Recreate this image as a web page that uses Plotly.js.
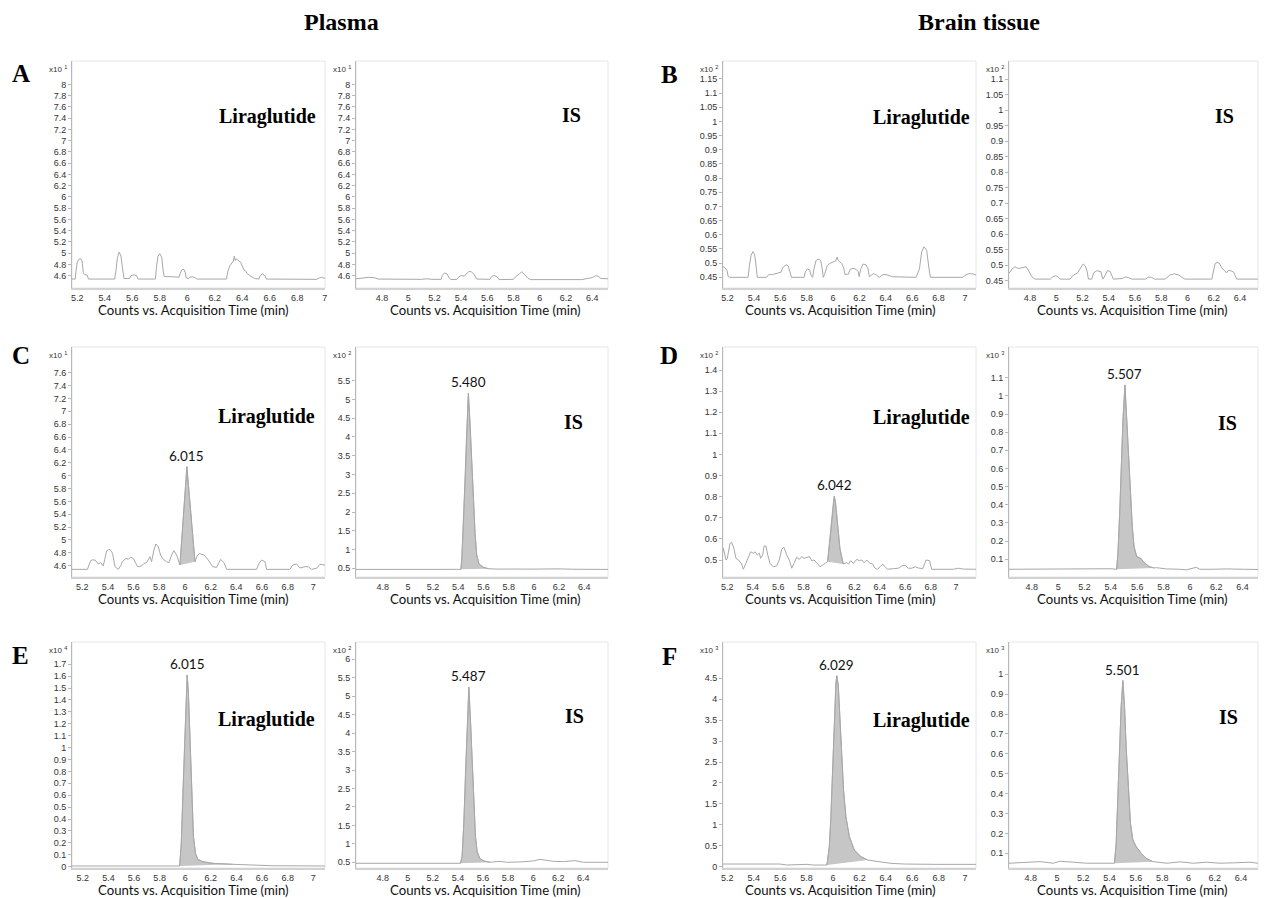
<!DOCTYPE html>
<html><head><meta charset="utf-8">
<script src="https://cdn.plot.ly/plotly-3.0.1.min.js"></script>
<style>html,body{margin:0;padding:0;background:#fff}#chart{width:1264px;height:898px}</style>
</head><body><div id="chart"></div>
<script>
// ---------- DATA (time in min, counts in axis units) ----------
const A_lira = [[5.162,4.54],[5.185,4.54],[5.192,4.70],[5.200,4.84],[5.212,4.89],[5.225,4.90],[5.235,4.86],[5.240,4.75],[5.245,4.64],[5.255,4.62],[5.272,4.61],[5.282,4.54],[5.472,4.54],[5.482,4.70],[5.492,4.92],[5.505,5.02],[5.518,4.95],[5.528,4.75],[5.540,4.55],[5.580,4.55],[5.590,4.60],[5.612,4.615],[5.632,4.60],[5.642,4.54],[5.768,4.54],[5.776,4.75],[5.786,4.94],[5.800,4.99],[5.814,4.93],[5.824,4.70],[5.832,4.585],[5.900,4.58],[5.940,4.575],[5.950,4.65],[5.962,4.71],[5.976,4.71],[5.986,4.65],[5.992,4.56],[6.010,4.55],[6.020,4.575],[6.040,4.58],[6.060,4.56],[6.068,4.54],[6.285,4.54],[6.295,4.68],[6.310,4.78],[6.325,4.82],[6.335,4.86],[6.342,4.95],[6.348,4.87],[6.354,4.90],[6.362,4.88],[6.376,4.86],[6.388,4.84],[6.400,4.75],[6.412,4.70],[6.425,4.68],[6.436,4.64],[6.455,4.60],[6.472,4.58],[6.490,4.55],[6.520,4.54],[6.530,4.60],[6.545,4.63],[6.565,4.60],[6.575,4.54],[6.940,4.535],[6.960,4.56],[6.975,4.57],[7.0,4.555]];
const A_is = [[4.602,4.545],[4.64,4.56],[4.70,4.57],[4.74,4.565],[4.77,4.54],[5.10,4.535],[5.14,4.545],[5.18,4.535],[5.25,4.535],[5.258,4.60],[5.275,4.65],[5.295,4.63],[5.31,4.56],[5.325,4.53],[5.37,4.535],[5.385,4.58],[5.405,4.605],[5.425,4.59],[5.44,4.62],[5.46,4.675],[5.48,4.67],[5.50,4.62],[5.52,4.54],[5.62,4.535],[5.632,4.58],[5.652,4.605],[5.675,4.58],[5.69,4.53],[5.80,4.535],[5.82,4.59],[5.845,4.63],[5.862,4.67],[5.88,4.63],[5.895,4.59],[5.91,4.555],[5.93,4.53],[6.32,4.53],[6.36,4.55],[6.40,4.565],[6.425,4.60],[6.445,4.59],[6.465,4.55],[6.519,4.545]];
const B_lira = [[5.165,0.488],[5.18,0.484],[5.195,0.474],[5.205,0.452],[5.215,0.45],[5.355,0.45],[5.365,0.49],[5.378,0.528],[5.392,0.541],[5.405,0.53],[5.416,0.49],[5.425,0.45],[5.495,0.45],[5.51,0.459],[5.54,0.46],[5.575,0.464],[5.605,0.468],[5.615,0.48],[5.625,0.488],[5.645,0.494],[5.66,0.49],[5.672,0.47],[5.685,0.45],[5.78,0.45],[5.79,0.47],[5.805,0.479],[5.822,0.476],[5.835,0.455],[5.845,0.45],[5.855,0.48],[5.87,0.508],[5.885,0.515],[5.905,0.51],[5.918,0.48],[5.925,0.45],[5.935,0.46],[5.955,0.49],[5.975,0.499],[6.005,0.505],[6.02,0.508],[6.03,0.521],[6.038,0.51],[6.05,0.505],[6.065,0.499],[6.08,0.484],[6.09,0.46],[6.115,0.461],[6.13,0.478],[6.15,0.482],[6.175,0.478],[6.19,0.47],[6.198,0.452],[6.21,0.48],[6.228,0.497],[6.25,0.494],[6.265,0.48],[6.275,0.452],[6.305,0.463],[6.33,0.458],[6.35,0.45],[6.38,0.46],[6.41,0.459],[6.45,0.452],[6.63,0.45],[6.655,0.48],[6.672,0.54],[6.69,0.558],[6.71,0.545],[6.725,0.49],[6.738,0.45],[6.985,0.45],[7.00,0.457],[7.03,0.463],[7.06,0.462],[7.084,0.458]];
const B_is = [[4.64,0.474],[4.665,0.488],[4.686,0.495],[4.705,0.49],[4.724,0.49],[4.745,0.492],[4.77,0.495],[4.787,0.484],[4.813,0.463],[4.838,0.455],[4.955,0.455],[4.975,0.463],[4.995,0.466],[5.015,0.462],[5.03,0.455],[5.105,0.455],[5.13,0.468],[5.16,0.474],[5.185,0.49],[5.205,0.504],[5.222,0.497],[5.235,0.48],[5.245,0.455],[5.27,0.455],[5.285,0.475],[5.308,0.482],[5.34,0.479],[5.355,0.455],[5.37,0.465],[5.39,0.482],[5.41,0.48],[5.425,0.465],[5.435,0.455],[5.505,0.457],[5.525,0.462],[5.55,0.46],[5.575,0.455],[5.68,0.455],[5.70,0.461],[5.725,0.461],[5.75,0.455],[5.83,0.455],[5.865,0.468],[5.9,0.472],[5.935,0.468],[5.96,0.46],[5.98,0.455],[6.185,0.455],[6.195,0.48],[6.21,0.505],[6.225,0.509],[6.243,0.506],[6.26,0.492],[6.28,0.482],[6.298,0.475],[6.31,0.483],[6.33,0.482],[6.35,0.478],[6.365,0.462],[6.375,0.455],[6.54,0.455]];
const C_lira = [[5.12,4.543],[5.24,4.543],[5.265,4.678],[5.28,4.69],[5.30,4.688],[5.325,4.626],[5.343,4.647],[5.364,4.595],[5.375,4.70],[5.39,4.828],[5.405,4.85],[5.416,4.854],[5.436,4.792],[5.455,4.584],[5.481,4.543],[5.50,4.60],[5.512,4.662],[5.54,4.714],[5.558,4.70],[5.577,4.73],[5.597,4.714],[5.618,4.636],[5.631,4.584],[5.662,4.595],[5.681,4.636],[5.701,4.647],[5.727,4.74],[5.74,4.662],[5.758,4.844],[5.774,4.937],[5.792,4.895],[5.81,4.766],[5.831,4.698],[5.857,4.662],[5.875,4.647],[5.896,4.766],[5.914,4.833],[5.935,4.766],[5.956,4.626],[5.961,4.61],[6.015,6.139],[6.078,4.662],[6.095,4.75],[6.112,4.79],[6.148,4.766],[6.182,4.688],[6.216,4.584],[6.247,4.574],[6.262,4.64],[6.278,4.698],[6.304,4.647],[6.325,4.543],[6.558,4.543],[6.578,4.64],[6.597,4.688],[6.623,4.662],[6.636,4.543],[6.818,4.543],[6.839,4.61],[6.87,4.626],[6.896,4.564],[6.935,4.584],[6.961,4.584],[6.987,4.543],[7.026,4.56],[7.052,4.621],[7.091,4.61]];
const C_is = [[4.588,0.47],[5.0,0.468],[5.3,0.47],[5.42,0.472],[5.427,0.72],[5.44,1.61],[5.453,2.853],[5.466,4.097],[5.48,5.163],[5.493,4.363],[5.506,3.297],[5.519,2.32],[5.533,1.43],[5.546,0.855],[5.564,0.615],[5.598,0.527],[5.638,0.491],[5.70,0.478],[5.75,0.48],[5.80,0.495],[5.85,0.48],[6.0,0.478],[6.15,0.49],[6.2,0.485],[6.3,0.475],[6.45,0.472],[6.588,0.47]];
const D_lira = [[5.166,0.54],[5.169,0.555],[5.19,0.50],[5.2,0.508],[5.221,0.579],[5.234,0.584],[5.252,0.555],[5.268,0.508],[5.287,0.50],[5.313,0.481],[5.326,0.456],[5.347,0.487],[5.365,0.516],[5.384,0.539],[5.405,0.532],[5.418,0.539],[5.436,0.524],[5.452,0.532],[5.462,0.508],[5.478,0.524],[5.489,0.566],[5.504,0.566],[5.518,0.524],[5.536,0.484],[5.562,0.468],[5.588,0.472],[5.609,0.50],[5.628,0.551],[5.646,0.56],[5.667,0.524],[5.688,0.50],[5.707,0.461],[5.725,0.484],[5.746,0.513],[5.767,0.503],[5.785,0.516],[5.804,0.508],[5.825,0.513],[5.846,0.516],[5.864,0.497],[5.882,0.50],[5.903,0.487],[5.930,0.468],[5.951,0.476],[5.989,0.492],[6.008,0.595],[6.021,0.69],[6.034,0.769],[6.042,0.803],[6.052,0.769],[6.068,0.658],[6.086,0.555],[6.112,0.481],[6.140,0.487],[6.153,0.481],[6.171,0.497],[6.192,0.484],[6.218,0.503],[6.239,0.497],[6.258,0.50],[6.276,0.487],[6.297,0.50],[6.323,0.484],[6.344,0.481],[6.363,0.461],[6.381,0.456],[6.402,0.468],[6.423,0.481],[6.441,0.468],[6.460,0.456],[6.507,0.459],[6.546,0.461],[6.573,0.472],[6.599,0.475],[6.625,0.461],[6.651,0.461],[6.678,0.468],[6.704,0.462],[6.738,0.459],[6.764,0.50],[6.791,0.497],[6.809,0.456],[6.98,0.456],[7.019,0.461],[7.058,0.457],[7.111,0.456],[7.157,0.456]];
const D_is = [[4.627,0.045],[5.0,0.046],[5.262,0.049],[5.30,0.046],[5.40,0.048],[5.444,0.045],[5.454,0.133],[5.467,0.353],[5.479,0.61],[5.492,0.867],[5.507,1.06],[5.520,0.885],[5.533,0.665],[5.551,0.427],[5.563,0.28],[5.576,0.17],[5.596,0.115],[5.627,0.105],[5.652,0.082],[5.690,0.06],[5.728,0.052],[5.745,0.054],[5.821,0.047],[5.923,0.045],[5.973,0.042],[6.050,0.056],[6.075,0.045],[6.177,0.045],[6.278,0.047],[6.405,0.045],[6.517,0.044]];
const E_lira = [[5.116,0.006],[5.5,0.006],[5.956,0.006],[5.969,0.196],[5.982,0.644],[5.995,1.064],[6.007,1.456],[6.015,1.61],[6.025,1.456],[6.038,1.064],[6.051,0.588],[6.064,0.252],[6.080,0.112],[6.098,0.062],[6.137,0.042],[6.216,0.028],[6.372,0.02],[6.528,0.014],[6.684,0.008],[7.091,0.006]];
const E_is = [[4.587,0.473],[5.0,0.473],[5.412,0.473],[5.420,0.473],[5.433,0.654],[5.447,1.557],[5.460,2.912],[5.473,4.177],[5.487,5.243],[5.500,4.357],[5.513,3.183],[5.526,2.009],[5.540,1.196],[5.553,0.789],[5.574,0.608],[5.606,0.536],[5.656,0.50],[5.736,0.527],[5.789,0.50],[5.896,0.51],[6.002,0.536],[6.055,0.58],[6.095,0.565],[6.162,0.527],[6.241,0.518],[6.335,0.545],[6.401,0.50],[6.597,0.50]];
const F_lira = [[5.167,0.064],[5.40,0.064],[5.599,0.064],[5.649,0.04],[5.801,0.056],[5.852,0.04],[5.94,0.04],[5.954,0.04],[5.972,0.478],[5.984,1.19],[5.997,2.31],[6.009,3.5],[6.022,4.38],[6.029,4.56],[6.040,4.34],[6.052,3.58],[6.065,2.71],[6.080,1.83],[6.098,1.19],[6.124,0.717],[6.161,0.398],[6.212,0.239],[6.262,0.16],[6.312,0.135],[6.363,0.104],[6.439,0.08],[6.540,0.064],[6.666,0.056],[6.792,0.056],[7.083,0.056]];
const F_is = [[4.635,0.05],[4.871,0.058],[4.972,0.05],[5.023,0.06],[5.125,0.055],[5.226,0.05],[5.434,0.05],[5.437,0.05],[5.450,0.15],[5.463,0.385],[5.475,0.62],[5.488,0.837],[5.501,0.968],[5.514,0.837],[5.526,0.636],[5.544,0.418],[5.559,0.251],[5.577,0.167],[5.602,0.134],[5.640,0.1],[5.678,0.075],[5.729,0.058],[5.780,0.055],[5.835,0.05],[5.936,0.057],[6.037,0.05],[6.139,0.055],[6.240,0.05],[6.342,0.052],[6.468,0.055],[6.529,0.05]];

// tick labels
const xTicksLira = [5.2,5.4,5.6,5.8,6,6.2,6.4,6.6,6.8,7];
const xTicksIS = [4.8,5,5.2,5.4,5.6,5.8,6,6.2,6.4];
const yTicksA = [4.6,4.8,5,5.2,5.4,5.6,5.8,6,6.2,6.4,6.6,6.8,7,7.2,7.4,7.6,7.8,8];
const yTicksBl = [0.45,0.5,0.55,0.6,0.65,0.7,0.75,0.8,0.85,0.9,0.95,1,1.05,1.1,1.15];
const yTicksBr = [0.45,0.5,0.55,0.6,0.65,0.7,0.75,0.8,0.85,0.9,0.95,1,1.05,1.1];
const yTicksCl = [4.6,4.8,5,5.2,5.4,5.6,5.8,6,6.2,6.4,6.6,6.8,7,7.2,7.4,7.6];
const yTicksCr = [0.5,1,1.5,2,2.5,3,3.5,4,4.5,5,5.5];
const yTicksDl = [0.5,0.6,0.7,0.8,0.9,1,1.1,1.2,1.3,1.4];
const yTicksDr = [0.1,0.2,0.3,0.4,0.5,0.6,0.7,0.8,0.9,1,1.1];
const yTicksEl = [0,0.1,0.2,0.3,0.4,0.5,0.6,0.7,0.8,0.9,1,1.1,1.2,1.3,1.4,1.5,1.6,1.7];
const yTicksEr = [0.5,1,1.5,2,2.5,3,3.5,4,4.5,5,5.5,6];
const yTicksFl = [0,0.5,1,1.5,2,2.5,3,3.5,4,4.5];
const yTicksFr = [0.1,0.2,0.3,0.4,0.5,0.6,0.7,0.8,0.9,1];

const exponents = ['1','1','2','2','1','2','2','3','4','2','3','3'];
const compoundNames = ['Liraglutide','IS','Liraglutide','IS','Liraglutide','IS','Liraglutide','IS','Liraglutide','IS','Liraglutide','IS'];
const retentionLabels = [null,null,null,null,'6.015','5.480','6.042','5.507','6.015','5.487','6.029','5.501'];
const peakWindows = [null,null,null,null,[5.961,6.078],[5.42,5.64],[5.989,6.112],[5.444,5.728],[5.956,6.372],[5.42,5.656],[5.954,6.27],[5.437,5.729]];
const panelLetters = ['A','B','C','D','E','F'];
const columnHeads = ['Plasma','Brain tissue'];
const xTitle = 'Counts vs. Acquisition Time (min)';

// ---------- LAYOUT CONFIG ----------
const W = 1264, H = 898;
const colX = [[72,325],[356,608],[723,976],[1009,1258]];
const rowY = [[61,288],[347,577],[642,868]];
const titleX = [193,485,840,1132];
const titleY = [310,599,890];
const panels = [
  {d:A_lira, c:0, r:0, xr:[5.162,7.001], yr:[4.381,8.415], xt:xTicksLira, yt:yTicksA, lp:[267,116]},
  {d:A_is,   c:1, r:0, xr:[4.602,6.519], yr:[4.381,8.415], xt:xTicksIS,   yt:yTicksA, lp:[571,115]},
  {d:B_lira, c:2, r:0, xr:[5.165,7.084], yr:[0.4123,1.2135], xt:xTicksLira, yt:yTicksBl, lp:[921,117]},
  {d:B_is,   c:3, r:0, xr:[4.64,6.537],  yr:[0.4263,1.159], xt:xTicksIS,   yt:yTicksBr, lp:[1224,116]},
  {d:C_lira, c:0, r:1, xr:[5.12,7.091],  yr:[4.424,8.0],   xt:xTicksLira, yt:yTicksCl, lp:[266,416]},
  {d:C_is,   c:1, r:1, xr:[4.588,6.588], yr:[0.268,6.398], xt:xTicksIS,   yt:yTicksCr, lp:[573,422]},
  {d:D_lira, c:2, r:1, xr:[5.166,7.157], yr:[0.4195,1.509], xt:xTicksLira, yt:yTicksDl, lp:[921,418]},
  {d:D_is,   c:3, r:1, xr:[4.627,6.517], yr:[0.0025,1.269], xt:xTicksIS,   yt:yTicksDr, lp:[1227,423]},
  {d:E_lira, c:0, r:2, xr:[5.116,7.091], yr:[-0.011,1.887], xt:xTicksLira, yt:yTicksEl, lp:[266,719]},
  {d:E_is,   c:1, r:2, xr:[4.587,6.597], yr:[0.3455,6.469], xt:xTicksIS,   yt:yTicksEr, lp:[574,716]},
  {d:F_lira, c:2, r:2, xr:[5.167,7.083], yr:[-0.031,5.367], xt:xTicksLira, yt:yTicksFl, lp:[921,720]},
  {d:F_is,   c:3, r:2, xr:[4.635,6.529], yr:[0.026,1.162], xt:xTicksIS,   yt:yTicksFr, lp:[1228,717]}
];
const letterPos = [[21,73],[669,75],[21,355],[669,355],[21,655],[669,656]];
const headPos = [[341,22],[979,22]];

const tickFont = {family:'Liberation Sans, Arial, sans-serif', size:9, color:'#333'};
const sansFont = 'Lato, "Open Sans", sans-serif';
const serifFont = '"Liberation Serif", "Times New Roman", serif';

const px = v => v / W, py = v => 1 - v / H;
const traces = [], layout = {
  width:W, height:H, margin:{l:0,r:0,t:0,b:0}, showlegend:false,
  paper_bgcolor:'#fff', plot_bgcolor:'rgba(0,0,0,0)', annotations:[], shapes:[]
};

panels.forEach((p, i) => {
  const n = i + 1, sfx = n === 1 ? '' : String(n);
  const xa = 'x' + sfx, ya = 'y' + sfx;
  const xs = p.d.map(q => q[0]), ys = p.d.map(q => q[1]);
  const [x0, x1] = colX[p.c], [y0, y1] = rowY[p.r];
  layout['xaxis' + sfx] = {
    domain:[px(x0), px(x1)], range:p.xr, anchor:ya,
    tickvals:p.xt, ticktext:p.xt.map(String), tickfont:tickFont,
    showline:true, linecolor:'#d2d2d2', linewidth:2, ticks:'',
    showgrid:false, zeroline:false, fixedrange:true
  };
  layout['yaxis' + sfx] = {
    domain:[py(y1), py(y0)], range:p.yr, anchor:xa,
    tickvals:p.yt, ticktext:p.yt.map(String), tickfont:tickFont,
    showline:true, linecolor:'#b8b8b8', linewidth:1, ticks:'outside', ticklen:3, tickcolor:'#b8b8b8',
    showgrid:false, zeroline:false, fixedrange:true
  };
  layout.shapes.push({type:'rect', xref:xa + ' domain', yref:ya + ' domain', x0:0, x1:1, y0:0, y1:1,
    line:{color:'#e6e6e6', width:1}, layer:'below'});
  const win = peakWindows[i];
  if (win) {
    const pk = p.d.filter(q => q[0] >= win[0] && q[0] <= win[1]);
    traces.push({x:pk.map(q => q[0]), y:pk.map(q => q[1]), xaxis:xa, yaxis:ya, mode:'lines',
      fill:'toself', fillcolor:'#c6c6c6', line:{color:'#a3a3a3', width:0.8}, hoverinfo:'skip'});
    const apex = pk.reduce((a, b) => b[1] > a[1] ? b : a);
    layout.annotations.push({xref:xa, yref:ya, x:apex[0], y:apex[1], yanchor:'bottom', yshift:1,
      text:retentionLabels[i], showarrow:false, font:{family:sansFont, size:13.5, color:'#111'}});
  }
  traces.push({x:xs, y:ys, xaxis:xa, yaxis:ya, mode:'lines', line:{color:'#a8a8a8', width:1}, hoverinfo:'skip'});
  layout.annotations.push({xref:'paper', yref:'paper', x:px(x0 - 3), y:py(y0 + 8), xanchor:'right', yanchor:'middle',
    text:'x10 <sup>' + exponents[i] + '</sup>', showarrow:false, font:{family:'Liberation Sans, Arial, sans-serif', size:8, color:'#333'}});
  layout.annotations.push({xref:'paper', yref:'paper', x:px(p.lp[0]), y:py(p.lp[1]), xanchor:'center', yanchor:'middle',
    text:compoundNames[i], showarrow:false, font:{family:serifFont, size:20, color:'#000', weight:700}});
  layout.annotations.push({xref:'paper', yref:'paper', x:px(titleX[p.c]), y:py(titleY[p.r]), xanchor:'center', yanchor:'middle',
    text:xTitle, showarrow:false, font:{family:sansFont, size:13.2, color:'#111'}});
});
panelLetters.forEach((t, k) => layout.annotations.push({xref:'paper', yref:'paper', x:px(letterPos[k][0]), y:py(letterPos[k][1]),
  xanchor:'center', yanchor:'middle', text:t, showarrow:false, font:{family:serifFont, size:25, color:'#000', weight:700}}));
columnHeads.forEach((t, k) => layout.annotations.push({xref:'paper', yref:'paper', x:px(headPos[k][0]), y:py(headPos[k][1]),
  xanchor:'center', yanchor:'middle', text:t, showarrow:false, font:{family:serifFont, size:24, color:'#000', weight:700}}));

Plotly.newPlot('chart', traces, layout, {displayModeBar:false, staticPlot:true});
</script></body></html>
